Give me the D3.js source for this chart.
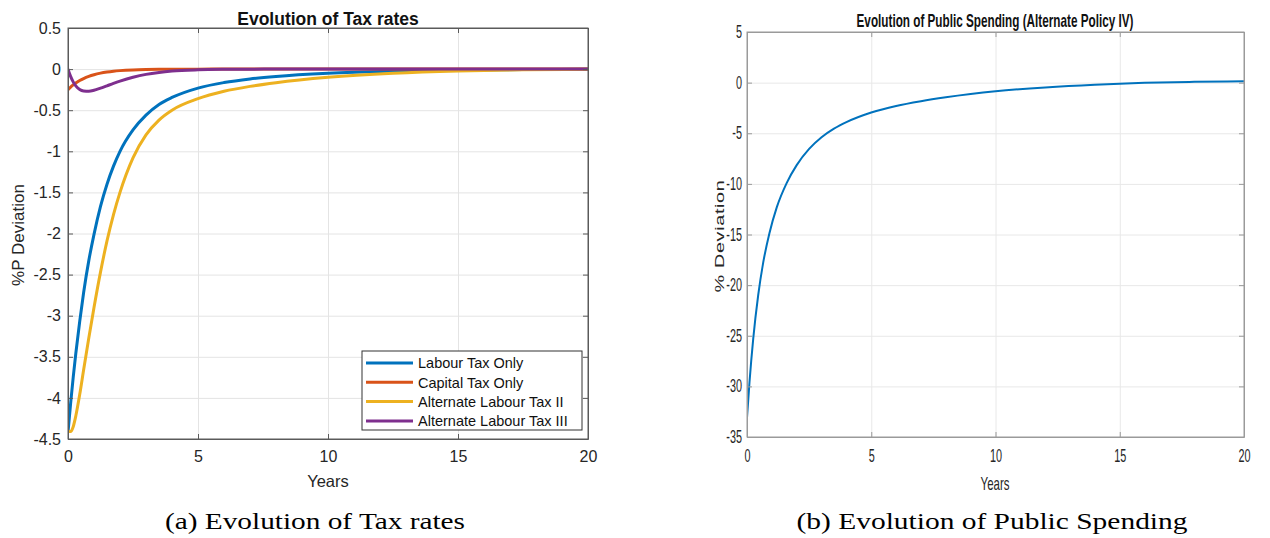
<!DOCTYPE html>
<html>
<head>
<meta charset="utf-8">
<script src="https://cdn.jsdelivr.net/npm/d3@7"></script>
<style>
body{margin:0;background:#fff;}
svg{display:block;font-family:"Liberation Sans",Arial,Helvetica,sans-serif;}
</style>
</head>
<body>
<svg id="fig" width="1270" height="538"></svg>
<script>
"use strict";

// ---- left panel: tax rates (% deviation) ----
var taxYears     = [0, 0.1, 0.2, 0.3, 0.45, 0.6, 0.8, 1.0, 1.25, 1.5, 1.75, 2.0, 2.5, 3.0, 3.5, 4.0, 5.0, 6.0, 7.0, 8.0, 10.0, 12.5, 15.0, 17.5, 20.0];
var labourOnly   = [-4.42, -4.07, -3.75, -3.46, -3.07, -2.72, -2.33, -2.01, -1.67, -1.40, -1.18, -1.00, -0.74, -0.56, -0.43, -0.345, -0.231, -0.164, -0.12, -0.089, -0.05, -0.025, -0.0125, -0.006, -0.003];
var capitalOnly  = [-0.25, -0.2195, -0.1927, -0.1692, -0.1391, -0.1146, -0.0884, -0.0682, -0.0492, -0.0356, -0.0257, -0.0186, -0.0097, -0.005, -0.0026, -0.0014, -0.0004, 0, 0, 0, 0, 0, 0, 0, 0];
var altLabourII  = [-4.40, -4.41, -4.35, -4.22, -3.96, -3.66, -3.27, -2.90, -2.47, -2.09, -1.77, -1.50, -1.08, -0.80, -0.62, -0.50, -0.36, -0.27, -0.21, -0.165, -0.10, -0.05, -0.022, -0.009, -0.003];
var altLabourIII = [0, -0.088, -0.155, -0.205, -0.248, -0.266, -0.27, -0.258, -0.232, -0.203, -0.174, -0.147, -0.1, -0.064, -0.04, -0.024, -0.009, -0.003, -0.001, 0, 0, 0, 0, 0, 0];
var seriesNames  = ["Labour Tax Only", "Capital Tax Only", "Alternate Labour Tax II", "Alternate Labour Tax III"];
var seriesColors = ["#0072BD", "#D95319", "#EDB120", "#7E2F8E"];
var taxTicksY    = [0.5, 0, -0.5, -1, -1.5, -2, -2.5, -3, -3.5, -4, -4.5];
var yearTicks    = [0, 5, 10, 15, 20];

// ---- right panel: public spending ----
var spendYears  = [0, 0.1, 0.25, 0.45, 0.65, 0.9, 1.2, 1.6, 2.0, 2.5, 3.0, 3.5, 4.0, 5.0, 6.0, 7.0, 8.0, 9.0, 10.0, 12.0, 14.0, 15.0, 16.0, 18.0, 20.0];
var spending    = [-33.1, -29.6, -25.3, -21.0, -17.8, -14.9, -12.3, -9.9, -8.15, -6.55, -5.4, -4.55, -3.9, -2.95, -2.3, -1.83, -1.45, -1.13, -0.86, -0.47, -0.2, -0.1, -0.02, 0.08, 0.13];
var spendTicksY = [5, 0, -5, -10, -15, -20, -25, -30, -35];

var svg = d3.select("#fig");

// squeeze text horizontally around its own anchor (right panel is condensed)
function squeeze(sel, k){
	sel.attr("transform", function(){
		var x = +d3.select(this).attr("x") || 0;
		return "translate(" + x + ",0) scale(" + k + ",1) translate(" + (-x) + ",0)";
	});
}

function drawPanel(p){
	var g = svg.append("g");
	var x = d3.scaleLinear().domain([0, 20]).range([p.left, p.right]);
	var y = d3.scaleLinear().domain([p.yTicks[p.yTicks.length - 1], p.yTicks[0]]).range([p.bottom, p.top]);
	var w = p.right - p.left, h = p.bottom - p.top;

	// grid
	g.append("g").attr("transform", "translate(0," + p.bottom + ")")
		.call(d3.axisBottom(x).tickValues(yearTicks).tickSize(-h).tickFormat(""))
		.call(function(a){ a.select(".domain").remove(); a.selectAll("line").attr("stroke", p.grid); });
	g.append("g").attr("transform", "translate(" + p.left + ",0)")
		.call(d3.axisLeft(y).tickValues(p.yTicks).tickSize(-w).tickFormat(""))
		.call(function(a){ a.select(".domain").remove(); a.selectAll("line").attr("stroke", p.grid); });

	// lines
	var clipId = "clip" + p.id;
	g.append("clipPath").attr("id", clipId).append("rect")
		.attr("x", p.left).attr("y", p.top - 2).attr("width", w).attr("height", h + 4);
	var line = d3.line().curve(d3.curveMonotoneX)
		.x(function(d){ return x(d[0]); }).y(function(d){ return y(d[1]); });
	p.series.forEach(function(s){
		g.append("path")
			.attr("clip-path", "url(#" + clipId + ")")
			.attr("d", line(d3.zip(p.xs, s.values)))
			.attr("fill", "none").attr("stroke", s.color)
			.attr("stroke-width", p.lineWidth).attr("stroke-linejoin", "round");
	});

	// box + inward ticks on all four sides
	g.append("rect").attr("x", p.left).attr("y", p.top).attr("width", w).attr("height", h)
		.attr("fill", "none").attr("stroke", p.box).attr("stroke-width", 1);
	var fmt = function(d){ return String(d); };
	var ax = g.append("g").attr("transform", "translate(0," + p.bottom + ")")
		.call(d3.axisBottom(x).tickValues(yearTicks).tickSizeInner(-5).tickSizeOuter(0).tickPadding(p.xPad).tickFormat(fmt));
	var ay = g.append("g").attr("transform", "translate(" + p.left + ",0)")
		.call(d3.axisLeft(y).tickValues(p.yTicks).tickSizeInner(-5).tickSizeOuter(0).tickPadding(p.yPad).tickFormat(fmt));
	var at = g.append("g").attr("transform", "translate(0," + p.top + ")")
		.call(d3.axisTop(x).tickValues(yearTicks).tickSizeInner(-5).tickSizeOuter(0).tickFormat(""));
	var ar = g.append("g").attr("transform", "translate(" + p.right + ",0)")
		.call(d3.axisRight(y).tickValues(p.yTicks).tickSizeInner(-5).tickSizeOuter(0).tickFormat(""));
	[ax, ay, at, ar].forEach(function(a){
		a.select(".domain").attr("stroke", p.box);
		a.selectAll(".tick line").attr("stroke", p.box);
	});
	[ax, ay].forEach(function(a){
		a.selectAll(".tick text").attr("fill", "#262626").attr("font-size", p.tickFont)
			.attr("font-family", "'Liberation Sans',Arial,sans-serif");
		if(p.squeeze) squeeze(a.selectAll(".tick text"), p.squeeze);
	});

	return {g: g, x: x, y: y};
}

// ---- left panel ----
drawPanel({
	id: "L", left: 68, right: 588, top: 28, bottom: 439,
	yTicks: taxTicksY, xs: taxYears, lineWidth: 3,
	grid: "#e4e4e4", box: "#5a5a5a", tickFont: "16px", xPad: 12, yPad: 7,
	series: [
		{values: labourOnly,   color: seriesColors[0]},
		{values: capitalOnly,  color: seriesColors[1]},
		{values: altLabourII,  color: seriesColors[2]},
		{values: altLabourIII, color: seriesColors[3]}
	]
});

svg.append("text").attr("x", 328).attr("y", 25).attr("text-anchor", "middle")
	.attr("font-size", "17.5px").attr("font-weight", "bold").attr("fill", "#111")
	.text("Evolution of Tax rates");
svg.append("text").attr("x", 328).attr("y", 487).attr("text-anchor", "middle")
	.attr("font-size", "16.5px").attr("fill", "#262626").text("Years");
svg.append("text").attr("transform", "translate(24,235) rotate(-90)").attr("text-anchor", "middle")
	.attr("font-size", "17px").attr("fill", "#262626").text("%P Deviation");

// legend
var leg = svg.append("g");
leg.append("rect").attr("x", 362).attr("y", 351).attr("width", 220).attr("height", 79)
	.attr("fill", "#fff").attr("stroke", "#333").attr("stroke-width", 1);
seriesNames.forEach(function(name, i){
	var yy = 363 + i * 19.3;
	leg.append("line").attr("x1", 366).attr("x2", 413).attr("y1", yy).attr("y2", yy)
		.attr("stroke", seriesColors[i]).attr("stroke-width", 3);
	leg.append("text").attr("x", 418).attr("y", yy).attr("dy", "0.36em")
		.attr("font-size", "14.5px").attr("fill", "#111").text(name);
});

// ---- right panel ----
drawPanel({
	id: "R", left: 747, right: 1244, top: 32, bottom: 437,
	yTicks: spendTicksY, xs: spendYears, lineWidth: 2,
	grid: "#e8e8e8", box: "#9a9a9a", tickFont: "17.5px", xPad: 13, yPad: 5, squeeze: 0.62,
	series: [{values: spending, color: seriesColors[0]}]
});

// condensed bold title, squeezed to the width seen in the picture
var rt = svg.append("text").attr("x", 995).attr("y", 27).attr("text-anchor", "middle")
	.attr("font-size", "18px").attr("font-weight", "bold").attr("fill", "#111")
	.text("Evolution of Public Spending (Alternate Policy IV)");
squeeze(rt, 277 / rt.node().getComputedTextLength());
var yr = svg.append("text").attr("x", 995).attr("y", 490).attr("text-anchor", "middle")
	.attr("font-size", "18.5px").attr("fill", "#262626").text("Years");
squeeze(yr, 0.62);
var dv = svg.append("text").attr("x", 0).attr("y", 0).attr("text-anchor", "middle")
	.attr("font-size", "18px").attr("fill", "#262626").attr("letter-spacing", "0.6px")
	.text("% Deviation");
dv.attr("transform", "translate(724,236) scale(0.72," + (113 / dv.node().getComputedTextLength()) + ") rotate(-90)");

// ---- sub-captions ----
svg.append("text").attr("x", 315).attr("y", 529).attr("text-anchor", "middle")
	.attr("font-family", "'Liberation Serif','Times New Roman',serif").attr("font-size", "24px").attr("fill", "#000")
	.attr("textLength", 300).attr("lengthAdjust", "spacingAndGlyphs")
	.text("(a) Evolution of Tax rates");
svg.append("text").attr("x", 992).attr("y", 529).attr("text-anchor", "middle")
	.attr("font-family", "'Liberation Serif','Times New Roman',serif").attr("font-size", "24px").attr("fill", "#000")
	.attr("textLength", 391).attr("lengthAdjust", "spacingAndGlyphs")
	.text("(b) Evolution of Public Spending");
</script>
</body>
</html>
